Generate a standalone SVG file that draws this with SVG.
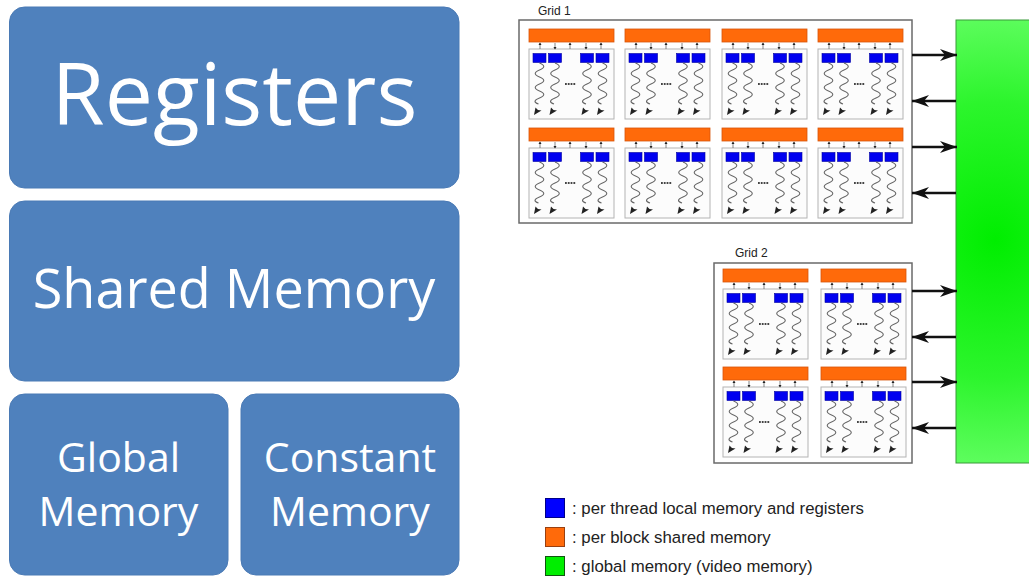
<svg xmlns="http://www.w3.org/2000/svg" width="1029" height="576" viewBox="0 0 1029 576">
<style>
.mem{fill:#4F81BD;stroke:#4a7ab5;stroke-width:1}
.mt{fill:#fff;font-family:"Open Sans","Liberation Sans",sans-serif;text-anchor:middle}
.grid{fill:#fff;stroke:#6a6a6a;stroke-width:1.5}
.gl{font-family:"Liberation Sans",Arial,sans-serif;font-size:12px;fill:#222}
.bar{fill:#FF6A0A;stroke:#D8560A;stroke-width:0.8}
.box{fill:#fcfcfc;stroke:#b4b4b4;stroke-width:1}
.reg{fill:#0000F0;stroke:#0000A0;stroke-width:0.6}
.wv{fill:none;stroke:#666;stroke-width:1.1}
.ah{fill:#222}
.tk{stroke:#666;stroke-width:0.8}
.arr{stroke:#111;stroke-width:2.5;fill:none}
.lg{font-family:"Liberation Sans",Arial,sans-serif;font-size:16.8px;fill:#222}
</style>
<defs>
<radialGradient id="gg" gradientUnits="userSpaceOnUse" cx="995" cy="240" r="250">
<stop offset="0" stop-color="#00EE00"/>
<stop offset="0.55" stop-color="#2CF52C"/>
<stop offset="1" stop-color="#6CFF6C"/>
</radialGradient>
<marker id="ah" markerWidth="18" markerHeight="12" refX="17" refY="6" orient="auto" markerUnits="userSpaceOnUse">
<path d="M0,0 L17,6 L0,12 L5,6 z" fill="#111"/>
</marker>
<g id="wave">
<path class="wv" d="M0,0 q8.5,3.5 0,7 t0,7 t0,7 t0,7 t0,7 t-1,6"/>
<polygon class="ah" points="-5.5,52 -4,44.5 -1.5,47 2,47.5"/>
</g>
<g id="blk">
<rect class="bar" x="0" y="0" width="85" height="13"/>
<rect class="box" x="0" y="20" width="85" height="70"/>
<line class="tk" x1="11" y1="14" x2="11" y2="20"/><polygon class="ah" points="9.5,16 11,13.5 12.5,16"/>
<line class="tk" x1="26" y1="14" x2="26" y2="20"/><polygon class="ah" points="24.5,18 26,20.5 27.5,18"/>
<line class="tk" x1="41" y1="14" x2="41" y2="20"/><polygon class="ah" points="39.5,16 41,13.5 42.5,16"/>
<line class="tk" x1="57" y1="14" x2="57" y2="20"/><polygon class="ah" points="55.5,18 57,20.5 58.5,18"/>
<line class="tk" x1="72" y1="14" x2="72" y2="20"/><polygon class="ah" points="70.5,16 72,13.5 73.5,16"/>
<rect class="reg" x="4" y="24.5" width="13" height="9"/>
<rect class="reg" x="19.5" y="24.5" width="13" height="9"/>
<rect class="reg" x="51.5" y="24.5" width="13" height="9"/>
<rect class="reg" x="67" y="24.5" width="13" height="9"/>
<use href="#wave" x="10.5" y="34"/>
<use href="#wave" x="26" y="34"/>
<use href="#wave" x="58" y="34"/>
<use href="#wave" x="73.5" y="34"/>
<line x1="36" y1="55" x2="47" y2="55" stroke="#444" stroke-width="1.8" stroke-dasharray="1.8 1"/>
</g>
</defs>

<rect width="1029" height="576" fill="#fff"/>

<g id="registers">
<rect class="mem" x="9.5" y="7" width="449.5" height="181" rx="15"/>
<text class="mt" x="234.5" y="125" font-size="86">Registers</text>
</g>
<g id="shared-memory">
<rect class="mem" x="9.5" y="201" width="449.5" height="180" rx="15"/>
<text class="mt" x="234" y="308" font-size="54">Shared Memory</text>
</g>
<g id="global-memory">
<rect class="mem" x="9.5" y="394" width="218.5" height="181" rx="15"/>
<text class="mt" x="118.5" y="472" font-size="41">Global</text>
<text class="mt" x="118.5" y="526" font-size="41">Memory</text>
</g>
<g id="constant-memory">
<rect class="mem" x="241" y="394" width="218" height="181" rx="15"/>
<text class="mt" x="350" y="472" font-size="41">Constant</text>
<text class="mt" x="350" y="526" font-size="41">Memory</text>
</g>

<g id="grid1">
<text class="gl" x="538" y="15">Grid 1</text>
<rect class="grid" x="519" y="20" width="393" height="203"/>
<use id="g1b1" href="#blk" x="529" y="29"/>
<use id="g1b2" href="#blk" x="625" y="29"/>
<use id="g1b3" href="#blk" x="722" y="29"/>
<use id="g1b4" href="#blk" x="818" y="29"/>
<use id="g1b5" href="#blk" x="529" y="128"/>
<use id="g1b6" href="#blk" x="625" y="128"/>
<use id="g1b7" href="#blk" x="722" y="128"/>
<use id="g1b8" href="#blk" x="818" y="128"/>
</g>

<g id="grid2">
<text class="gl" x="735" y="257">Grid 2</text>
<rect class="grid" x="714" y="263" width="198" height="200"/>
<use id="g2b1" href="#blk" x="723" y="269"/>
<use id="g2b2" href="#blk" x="821" y="269"/>
<use id="g2b3" href="#blk" x="723" y="367"/>
<use id="g2b4" href="#blk" x="821" y="367"/>
</g>

<g id="global-video-memory">
<rect x="956" y="20" width="80" height="443" fill="url(#gg)" stroke="#3a9a3a" stroke-width="1"/>
</g>

<g id="connectors">
<line class="arr" x1="912" y1="55" x2="957" y2="55" marker-end="url(#ah)"/>
<line class="arr" x1="956" y1="101" x2="912" y2="101" marker-end="url(#ah)"/>
<line class="arr" x1="912" y1="147" x2="957" y2="147" marker-end="url(#ah)"/>
<line class="arr" x1="956" y1="193" x2="912" y2="193" marker-end="url(#ah)"/>
<line class="arr" x1="912" y1="291" x2="957" y2="291" marker-end="url(#ah)"/>
<line class="arr" x1="956" y1="337" x2="912" y2="337" marker-end="url(#ah)"/>
<line class="arr" x1="912" y1="382" x2="957" y2="382" marker-end="url(#ah)"/>
<line class="arr" x1="956" y1="428" x2="912" y2="428" marker-end="url(#ah)"/>
</g>

<g id="legend">
<rect x="545.5" y="498.5" width="19" height="19" fill="#0000FF" stroke="#000088" stroke-width="1"/>
<text class="lg" x="572" y="514">: per thread local memory and registers</text>
<rect x="545.5" y="527.5" width="19" height="19" fill="#FF6A0A" stroke="#994010" stroke-width="1"/>
<text class="lg" x="572" y="543">: per block shared memory</text>
<rect x="545.5" y="556.5" width="19" height="19" fill="#00EE00" stroke="#115511" stroke-width="1"/>
<text class="lg" x="572" y="572">: global memory (video memory)</text>
</g>
</svg>
